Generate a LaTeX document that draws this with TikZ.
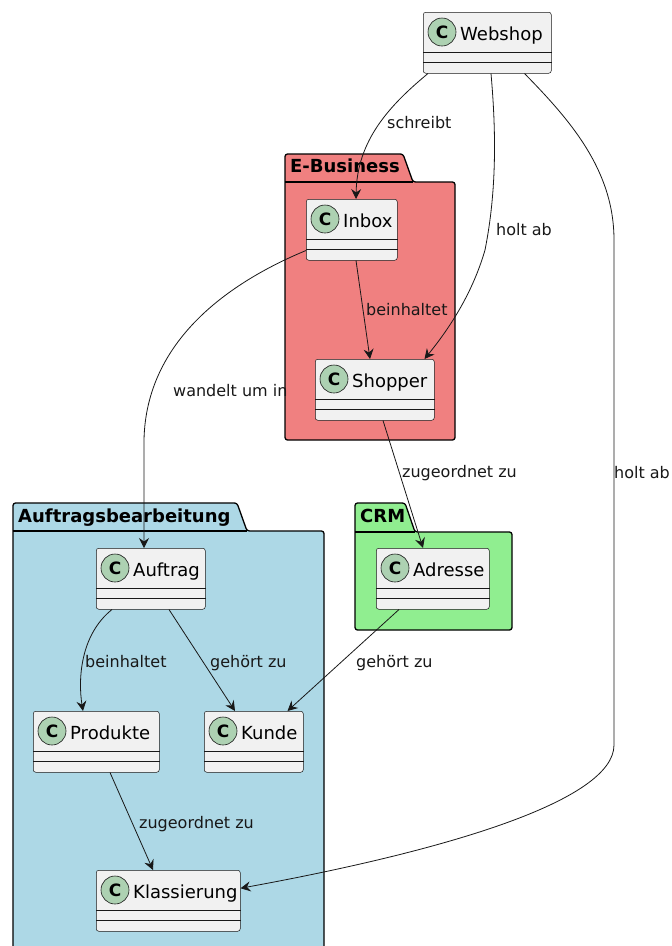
\documentclass[tikz,border=0pt]{standalone}
\usepackage{fontspec}
\setmainfont{DejaVu Sans}
\usetikzlibrary{arrows.meta}

\definecolor{ink}{HTML}{181818}
\definecolor{classfill}{HTML}{F1F1F1}
\definecolor{iconfill}{HTML}{ADD1B2}
\definecolor{ebizfill}{HTML}{F08080}
\definecolor{crmfill}{HTML}{90EE90}
\definecolor{orderfill}{HTML}{ADD8E6}

\tikzset{
  classbox/.style={rectangle, draw=ink, line width=0.5pt, fill=classfill,
    rounded corners=2.5pt, inner sep=0pt},
  sepline/.style={draw=ink, line width=0.5pt},
  classicon/.style={circle, draw=ink, line width=0.6pt, fill=iconfill,
    minimum size=28pt, inner sep=0pt, font=\fontsize{17}{17}\selectfont\bfseries},
  classname/.style={inner sep=0pt, anchor=base west,
    font=\fontsize{18}{18}\selectfont, text=black},
  pkgframe/.style={draw=black, line width=1.3pt, rounded corners=2.5pt, line join=round},
  pkgline/.style={draw=black, line width=1.3pt},
  pkgtitle/.style={inner sep=0pt, anchor=base west, font=\fontsize{18}{18}\selectfont\bfseries},
  rel/.style={draw=ink, line width=0.8pt, -{Stealth[length=10pt,width=10pt,inset=3.5pt]}},
  rellabel/.style={inner sep=0pt, anchor=base west, font=\fontsize{16}{16}\selectfont, text=ink},
}

% class box: name, left, top, right, title
\newcommand\umlclass[5]{%
  \node[classbox, minimum width=#4pt-#2pt, minimum height=61pt, anchor=north west] (#1) at (#2,#3) {};
  \draw[sepline] ([yshift=-40pt]#1.north west) -- ([yshift=-40pt]#1.north east);
  \draw[sepline] ([yshift=-50pt]#1.north west) -- ([yshift=-50pt]#1.north east);
  \node[classicon] (#1-icon) at ([xshift=19pt,yshift=-20pt]#1.north west) {C};
  \node[classname] (#1-name) at ([xshift=37pt,yshift=-28pt]#1.north west) {#5};
}

% package frame: fill, left, tab top, tab right, body top, right, bottom
\newcommand\umlpackage[7]{%
  \filldraw[pkgframe, fill=#1] (#2,#5) -- (#2,#3) -- (#4,#3) -- ({#4+10},#5)
    -- (#6,#5) -- (#6,#7) -- (#2,#7) -- cycle;
  \draw[pkgline] (#2,#5) -- ({#4+10},#5);
}

\begin{document}
\begin{tikzpicture}[x=1pt,y=-1pt]
\useasboundingbox (0,0) rectangle (672,946);
\clip (0,0) rectangle (672,946);

% packages
\umlpackage{ebizfill}{285}{154}{403}{182}{455}{440}
\node[pkgtitle] (ebiz-title) at (290,172.5) {E-Business};
\umlpackage{orderfill}{13}{503}{237}{531}{324}{960}
\node[pkgtitle] (order-title) at (18,522.5) {Auftragsbearbeitung};
\umlpackage{crmfill}{355}{503}{405}{532}{512}{630}
\node[pkgtitle] (crm-title) at (360,522.5) {CRM};

% classes
\umlclass{webshop}{423}{12}{551}{Webshop}
\umlclass{inbox}{306}{199}{397}{Inbox}
\umlclass{shopper}{315}{359}{434}{Shopper}
\umlclass{adresse}{376}{548}{489}{Adresse}
\umlclass{auftrag}{96}{548}{205}{Auftrag}
\umlclass{produkte}{33}{711}{159}{Produkte}
\umlclass{kunde}{204}{711}{303}{Kunde}
\umlclass{klass}{96}{870}{240}{Klassierung}

% relations
\draw[rel] ([xshift=5pt]webshop.south west) .. controls (390,105) and (357,140) .. ([xshift=50pt]inbox.north west);
\draw[rel] ([xshift=68pt]webshop.south west) .. controls (496,130) and (497,190) .. (485,250)
  .. controls (472,295) and (448,330) .. ([xshift=-10pt]shopper.north east);
\draw[rel] ([xshift=-27pt]webshop.south east) .. controls (570,120) and (614,170) .. (614,240)
  -- (614,745) .. controls (614,800) and (450,850) .. ([yshift=12.5pt]klass.east);
\draw[rel] ([yshift=10pt]inbox.south west) .. controls (230,282) and (146,340) .. (144,440)
  -- ([xshift=48pt]auftrag.north west);
\draw[rel] ([xshift=50pt]inbox.south west) -- ([xshift=55pt]shopper.north west);
\draw[rel] ([xshift=68pt]shopper.south west) -- ([xshift=47pt]adresse.north west);
\draw[rel] ([xshift=23pt]adresse.south west) -- ([xshift=-16pt]kunde.north east);
\draw[rel] ([xshift=16pt]auftrag.south west) .. controls (80,635) and (78,680) .. ([xshift=50pt]produkte.north west);
\draw[rel] ([xshift=73pt]auftrag.south west) -- ([xshift=31pt]kunde.north west);
\draw[rel] ([xshift=77pt]produkte.south west) -- ([xshift=57pt]klass.north west);

% relation labels
\node[rellabel] (l-schreibt) at (387,128) {schreibt};
\node[rellabel] (l-holtab1) at (496,235) {holt ab};
\node[rellabel] (l-holtab2) at (614,478) {holt ab};
\node[rellabel] (l-wandelt) at (173,396) {wandelt um in};
\node[rellabel] (l-beinh1) at (366,315) {beinhaltet};
\node[rellabel] (l-zug1) at (402,477) {zugeordnet zu};
\node[rellabel] (l-gehoert1) at (356,667) {gehört zu};
\node[rellabel] (l-beinh2) at (85,667) {beinhaltet};
\node[rellabel] (l-gehoert2) at (210,667) {gehört zu};
\node[rellabel] (l-zug2) at (139,828) {zugeordnet zu};
\end{tikzpicture}
\end{document}
